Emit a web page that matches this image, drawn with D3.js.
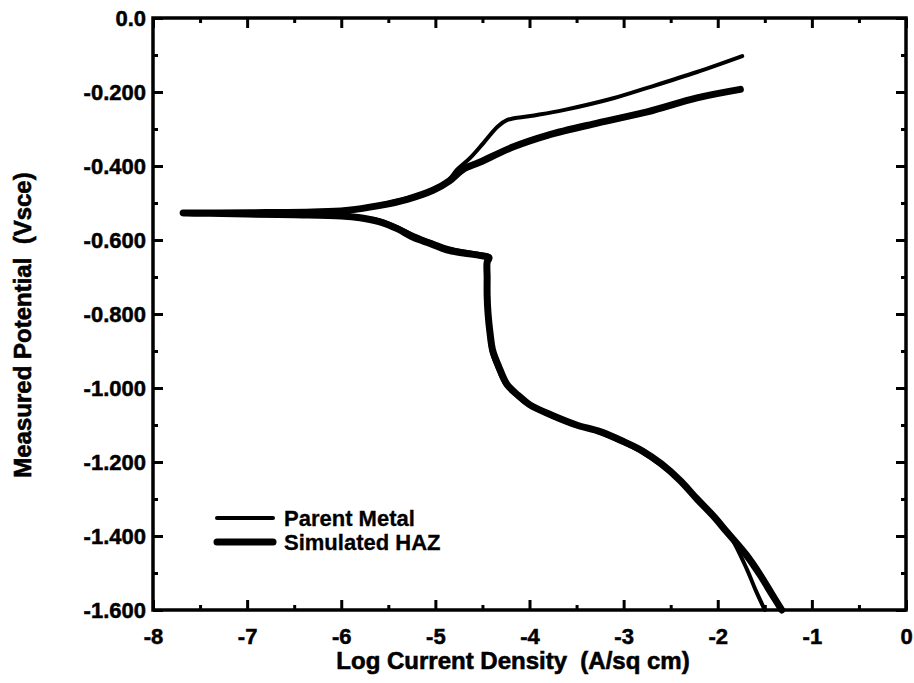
<!DOCTYPE html>
<meta charset="utf-8">
<title>Polarization curves</title>
<style>
body { margin: 0; background: #fff; }
svg { display: block; }
text { font-family: "Liberation Sans", Arial, Helvetica, sans-serif; fill: #000; white-space: pre; }
.tick text { font-size: 22px; font-weight: bold; stroke: #000; stroke-width: 0.5px; }
.axis-label { font-size: 24px; font-weight: bold; stroke: #000; stroke-width: 0.6px; }
.legend text { font-size: 22px; font-weight: bold; stroke: #000; stroke-width: 0.3px; }
.curve { fill: none; stroke: #000; stroke-linejoin: round; stroke-linecap: round; }
</style>
<body>
<div id="chart"></div>
<script src="https://d3js.org/d3.v7.min.js"></script>
<script>

// Parent Metal, in scan order (cathodic end -> Ecorr -> anodic end)
var parentLogI = [-1.50,-1.60,-1.69,-1.88,-2.04,-2.21,-2.40,-2.61,-2.82,-3.02,-3.26,-3.50,-3.76,-4.00,
    -4.13,-4.25,-4.34,-4.40,-4.43,-4.44,-4.45,-4.45,-4.44,-4.42,
    -4.48,-4.68,-4.86,-5.04,-5.22,-5.40,-5.58,-5.80,-6.00,-6.50,-7.00,-7.40,-7.66,
    -7.30,-6.80,-6.30,-5.95,-5.60,-5.30,-5.02,-4.86,-4.77,
    -4.63,-4.49,-4.34,-4.24,-3.99,-3.64,-3.11,-2.75,-2.22,-1.74];
var parentE = [-1.600,-1.545,-1.490,-1.395,-1.348,-1.302,-1.252,-1.208,-1.172,-1.146,-1.120,-1.101,-1.077,-1.047,
    -1.022,-0.992,-0.945,-0.902,-0.850,-0.800,-0.750,-0.700,-0.660,-0.645,
    -0.640,-0.632,-0.622,-0.606,-0.588,-0.566,-0.548,-0.538,-0.533,-0.530,-0.529,-0.527,-0.527,
    -0.526,-0.525,-0.523,-0.521,-0.505,-0.487,-0.462,-0.438,-0.410,
    -0.378,-0.338,-0.294,-0.276,-0.265,-0.249,-0.217,-0.189,-0.146,-0.103];

// Simulated HAZ
var hazLogI = [-1.32,-1.43,-1.55,-1.70,-1.90,-2.05,-2.22,-2.40,-2.60,-2.80,
    -3.00,-3.25,-3.50,-3.75,-4.00,-4.12,-4.24,-4.33,-4.39,-4.42,
    -4.44,-4.45,-4.45,-4.45,-4.43,-4.50,-4.70,-4.88,-5.05,-5.24,
    -5.40,-5.59,-5.80,-6.00,-6.50,-7.00,-7.40,-7.68,-7.30,-6.80,
    -6.30,-5.95,-5.60,-5.30,-5.02,-4.85,-4.71,-4.53,-4.17,-3.81,
    -3.28,-2.75,-2.22,-1.76];
var hazE = [-1.600,-1.555,-1.505,-1.450,-1.390,-1.345,-1.300,-1.250,-1.205,-1.170,
    -1.145,-1.118,-1.100,-1.075,-1.045,-1.020,-0.990,-0.940,-0.900,-0.850,
    -0.800,-0.750,-0.700,-0.660,-0.648,-0.643,-0.635,-0.627,-0.610,-0.592,
    -0.570,-0.551,-0.540,-0.535,-0.532,-0.530,-0.528,-0.527,-0.527,-0.526,
    -0.524,-0.520,-0.507,-0.490,-0.465,-0.440,-0.410,-0.390,-0.348,-0.317,
    -0.284,-0.254,-0.216,-0.193];

var xMajor = [-8,-7,-6,-5,-4,-3,-2,-1,0];
var xMinor = [-7.5,-6.5,-5.5,-4.5,-3.5,-2.5,-1.5,-0.5];
var yMajor = [0,-0.2,-0.4,-0.6,-0.8,-1.0,-1.2,-1.4,-1.6];
var yMinor = [-0.1,-0.3,-0.5,-0.7,-0.9,-1.1,-1.3,-1.5];

var seriesNames = ["Parent Metal", "Simulated HAZ"];
var seriesWidths = [4, 7];

// set the dimensions and margins of the graph
var margin = {top: 18, right: 8, bottom: 73, left: 153},
    width = 914 - margin.left - margin.right,
    height = 683 - margin.top - margin.bottom;

var svg = d3.select("#chart").append("svg")
    .attr("width", 914)
    .attr("height", 683)
  .append("g")
    .attr("transform", "translate(" + margin.left + "," + margin.top + ")");

var x = d3.scaleLinear().domain([-8, 0]).range([0, width]);
var y = d3.scaleLinear().domain([-1.6, 0]).range([height, 0]);

// plain hyphen instead of d3's unicode minus
var xFmt = function(d) { return String(d); };
var yFmt = function(d) { return d === 0 ? "0.0" : d.toFixed(3); };

// axes: ticks point inward on all four sides
function styleAxis(g) {
    g.select(".domain").remove();
    g.selectAll(".tick line").attr("stroke", "#000").attr("stroke-width", 3);
}

svg.append("g")
    .attr("transform", "translate(0," + height + ")")
    .call(d3.axisBottom(x).tickValues(xMajor).tickSizeInner(-10).tickSizeOuter(0).tickFormat(xFmt))
    .call(styleAxis)
    .call(function(g) { g.selectAll("text").attr("y", 18).attr("dy", "0.71em"); });
svg.append("g")
    .attr("transform", "translate(0," + height + ")")
    .call(d3.axisBottom(x).tickValues(xMinor).tickSizeInner(-5).tickSizeOuter(0).tickFormat(""))
    .call(styleAxis);
svg.append("g")
    .call(d3.axisTop(x).tickValues(xMajor).tickSizeInner(-10).tickSizeOuter(0).tickFormat(""))
    .call(styleAxis);
svg.append("g")
    .call(d3.axisTop(x).tickValues(xMinor).tickSizeInner(-5).tickSizeOuter(0).tickFormat(""))
    .call(styleAxis);

svg.append("g")
    .call(d3.axisLeft(y).tickValues(yMajor).tickSizeInner(-10).tickSizeOuter(0).tickFormat(yFmt))
    .call(styleAxis)
    .call(function(g) { g.selectAll("text").attr("x", -7).attr("dy", "0.35em"); });
svg.append("g")
    .call(d3.axisLeft(y).tickValues(yMinor).tickSizeInner(-5).tickSizeOuter(0).tickFormat(""))
    .call(styleAxis);
svg.append("g")
    .attr("transform", "translate(" + width + ",0)")
    .call(d3.axisRight(y).tickValues(yMajor).tickSizeInner(-10).tickSizeOuter(0).tickFormat(""))
    .call(styleAxis);
svg.append("g")
    .attr("transform", "translate(" + width + ",0)")
    .call(d3.axisRight(y).tickValues(yMinor).tickSizeInner(-5).tickSizeOuter(0).tickFormat(""))
    .call(styleAxis);

// frame
svg.append("rect")
    .attr("width", width)
    .attr("height", height)
    .attr("fill", "none")
    .attr("stroke", "#000")
    .attr("stroke-width", 3.5);

// curves
var line = d3.line()
    .x(function(d) { return x(d[0]); })
    .y(function(d) { return y(d[1]); })
    .curve(d3.curveCatmullRom.alpha(0.5));

var series = [d3.zip(parentLogI, parentE), d3.zip(hazLogI, hazE)];

svg.selectAll(".curve")
    .data(series)
    .enter().append("path")
    .attr("class", "curve")
    .attr("stroke-width", function(d, i) { return seriesWidths[i]; })
    .attr("d", line);

// axis labels
svg.append("text")
    .attr("class", "axis-label")
    .attr("x", 513 - margin.left)
    .attr("y", 669 - margin.top)
    .attr("text-anchor", "middle")
    .text("Log Current Density  (A/sq cm)");

svg.append("text")
    .attr("class", "axis-label")
    .attr("transform", "translate(" + (31 - margin.left) + "," + (325 - margin.top) + ") rotate(-90)")
    .attr("text-anchor", "middle")
    .text("Measured Potential  (Vsce)");

// legend
var legend = svg.append("g")
    .attr("class", "legend")
    .attr("transform", "translate(" + (217 - margin.left) + "," + (518 - margin.top) + ")");

var item = legend.selectAll("g")
    .data(seriesNames)
    .enter().append("g")
    .attr("transform", function(d, i) { return "translate(0," + i * 24 + ")"; });

item.append("line")
    .attr("x1", 0).attr("x2", 56)
    .attr("stroke", "#000")
    .attr("stroke-linecap", "round")
    .attr("stroke-width", function(d, i) { return i === 0 ? 4 : 7; });

item.append("text")
    .attr("x", 67)
    .attr("dy", "0.36em")
    .text(function(d) { return d; });

</script>
</body>
